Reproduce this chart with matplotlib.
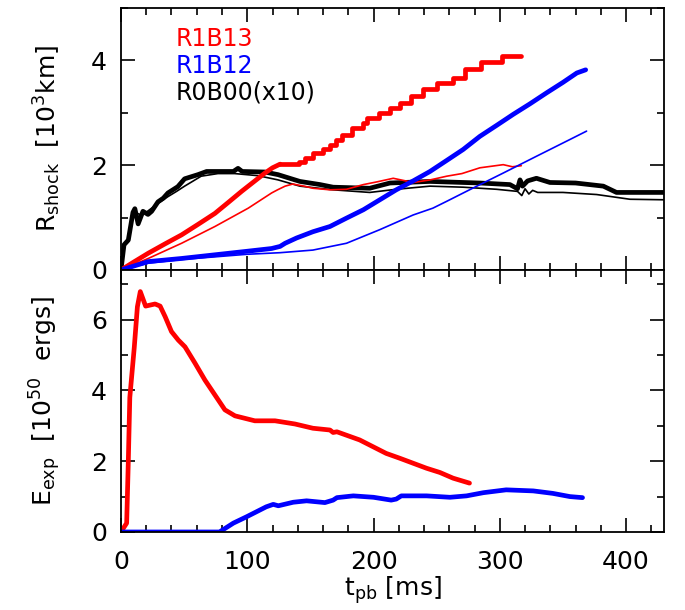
import matplotlib
matplotlib.use('Agg')
import matplotlib.pyplot as plt
from matplotlib.ticker import MultipleLocator

plt.rcParams['font.family'] = ['DejaVu Sans']
plt.rcParams['mathtext.default'] = 'regular'

# 激波半径 (10^3 km)
r13_t = [0, 10, 21.6, 35, 48, 61, 74.4, 85, 95.5, 105, 114, 120, 126]
r13_r = [0, 0.15, 0.32, 0.5, 0.67, 0.87, 1.08, 1.29, 1.5, 1.68, 1.85, 1.95, 2.02]
r13_step_t = [126, 141, 146, 152, 160, 165.5, 170, 175, 183, 192, 195, 204, 213, 221,
              230, 239.5, 250, 263, 272.5, 285.5, 301.5, 317]
r13_step_r = [2.02, 2.07, 2.14, 2.23, 2.30, 2.39, 2.48, 2.58, 2.71, 2.81, 2.90, 3.00,
              3.10, 3.19, 3.32, 3.45, 3.57, 3.67, 3.83, 3.96, 4.08, 4.08]
r13_thin_t = [0, 21.6, 48, 74.4, 100.8, 119.3, 124, 130, 136, 145, 152, 165.5, 178.6,
              192, 202.4, 215.6, 231.4, 245, 258, 270, 284.2, 302.7, 310, 317]
r13_thin_r = [0, 0.22, 0.51, 0.83, 1.18, 1.47, 1.53, 1.60, 1.64, 1.60, 1.56, 1.53, 1.54,
              1.63, 1.68, 1.75, 1.67, 1.72, 1.79, 1.84, 1.95, 2.01, 1.97, 1.99]

r12_t = [0, 21.6, 48, 74.4, 100.8, 119.3, 126, 130, 139, 152, 165.5, 178.6, 192, 205,
         218, 231.4, 244.7, 257.9, 271, 284.2, 297.5, 310.6, 323.8, 337, 350, 361, 368]
r12_r = [0, 0.16, 0.22, 0.29, 0.36, 0.41, 0.45, 0.51, 0.61, 0.73, 0.83, 0.99, 1.15, 1.34,
         1.53, 1.70, 1.88, 2.09, 2.30, 2.55, 2.76, 2.97, 3.17, 3.38, 3.58, 3.76, 3.82]
r12_thin_t = [0, 21.6, 48, 74, 100, 126, 152, 178.6, 205, 231.4, 247, 257.9, 276, 302.7,
              329, 355.5, 368.7]
r12_thin_r = [0, 0.13, 0.2, 0.25, 0.3, 0.33, 0.38, 0.51, 0.77, 1.05, 1.18, 1.31, 1.53,
              1.85, 2.17, 2.49, 2.65]

r00_t = [0, 2.4, 5.8, 9.5, 11, 13.6, 17.4, 21.4, 24.3, 29.3, 33.5, 37.2, 45, 50.4, 61,
         67.8, 89, 92.7, 96, 113.8, 124.3, 141.7, 157.6, 168, 197, 213, 244.7, 284, 308,
         314, 316, 318, 322, 329, 339.7, 360, 382, 392.4, 430]
r00_r = [0, 0.48, 0.57, 1.1, 1.17, 0.88, 1.12, 1.06, 1.12, 1.3, 1.37, 1.47, 1.59, 1.74,
         1.82, 1.88, 1.88, 1.94, 1.88, 1.87, 1.82, 1.69, 1.63, 1.58, 1.56, 1.66, 1.69,
         1.66, 1.63, 1.55, 1.72, 1.60, 1.70, 1.75, 1.67, 1.66, 1.60, 1.48, 1.48]
r00_thin_t = [0, 2.4, 5.8, 9.5, 11, 16, 21, 29.3, 37.2, 44, 50.4, 63.5, 76.8, 90, 108.5,
              124.3, 141.7, 168, 197, 218, 244.7, 271, 297.5, 314, 317.4, 320, 323, 326,
              330, 350, 376.7, 403, 430]
r00_thin_r = [0, 0.45, 0.57, 1.0, 1.1, 1.05, 1.12, 1.27, 1.40, 1.5, 1.6, 1.79, 1.84, 1.84,
              1.80, 1.72, 1.60, 1.53, 1.48, 1.54, 1.60, 1.58, 1.54, 1.50, 1.42, 1.55,
              1.45, 1.52, 1.48, 1.48, 1.44, 1.35, 1.34]

# 爆发能量 (10^50 erg)
e13_t = [0, 1.8, 4.5, 5.8, 7, 10.5, 13, 15.3, 19.5, 27, 31, 35, 40, 45.4, 50.7, 58.6,
         66.5, 74.4, 82.3, 90.3, 106, 122, 137.8, 152, 165.5, 168, 171, 189, 210, 221,
         242, 252.6, 263, 276]
e13_e = [0, 0.1, 0.25, 1.98, 3.8, 5.2, 6.36, 6.79, 6.38, 6.44, 6.38, 6.08, 5.66, 5.42,
         5.23, 4.77, 4.29, 3.87, 3.45, 3.28, 3.14, 3.14, 3.05, 2.93, 2.88, 2.81, 2.83,
         2.6, 2.22, 2.08, 1.8, 1.68, 1.52, 1.38]
e12_t = [0, 78, 89, 99.5, 115, 120.6, 124.6, 136.4, 147, 161.5, 168, 171, 184, 200, 214,
         218, 222, 242, 260.5, 273.7, 287, 305, 326.5, 342, 355.5, 365.5]
e12_e = [0, 0, 0.25, 0.43, 0.71, 0.78, 0.74, 0.84, 0.88, 0.83, 0.9, 0.97, 1.02, 0.98,
         0.90, 0.93, 1.02, 1.02, 0.98, 1.02, 1.11, 1.19, 1.16, 1.09, 1.0, 0.97]

labels = ['R1B13', 'R1B12', 'R0B00(x10)']
colors = ['#ff0000', '#0000ff', 'black']

fig = plt.figure(figsize=(6.85, 6.10), dpi=100)
ax1 = fig.add_axes([0.1766, 0.5574, 0.7927, 0.4295])
ax2 = fig.add_axes([0.1766, 0.1279, 0.7927, 0.4295], sharex=ax1)

thick = 3.4
thin = 1.2
kw = dict(solid_capstyle='round', solid_joinstyle='round')

ax1.plot(r00_thin_t, r00_thin_r, color='black', lw=thin, **kw)
ax1.plot(r00_t, r00_r, color='black', lw=thick, **kw)
ax1.plot(r13_thin_t, r13_thin_r, color=colors[0], lw=thin, **kw)
ax1.plot(r13_t, r13_r, color=colors[0], lw=thick, **kw)
ax1.plot(r13_step_t, r13_step_r, color=colors[0], lw=thick, drawstyle='steps-post', **kw)
ax1.plot(r12_thin_t, r12_thin_r, color=colors[1], lw=thin, **kw)
ax1.plot(r12_t, r12_r, color=colors[1], lw=thick, **kw)

for i, (lab, c) in enumerate(zip(labels, colors)):
    ax1.text(43, 4.4 - 0.51 * i, lab, color=c, fontsize=17, va='center', ha='left')

ax2.plot(e13_t, e13_e, color=colors[0], lw=thick, **kw)
ax2.plot(e12_t, e12_e, color=colors[1], lw=thick, **kw)

ax1.set_xlim(0, 430)
ax1.set_ylim(0, 5)
ax2.set_ylim(0, 7.4)

ax1.yaxis.set_major_locator(MultipleLocator(2))
ax1.yaxis.set_minor_locator(MultipleLocator(1))
ax2.yaxis.set_major_locator(MultipleLocator(2))
ax2.yaxis.set_minor_locator(MultipleLocator(1))
ax2.xaxis.set_major_locator(MultipleLocator(100))
ax2.xaxis.set_minor_locator(MultipleLocator(20))

for ax in (ax1, ax2):
    for s in ax.spines.values():
        s.set_linewidth(1.3)
    ax.tick_params(which='both', direction='in', top=True, right=True, width=1.2,
                   labelsize=18)
    ax.tick_params(which='major', length=10)
    ax.tick_params(which='minor', length=5)
    ax.tick_params(axis='y', which='major', pad=10)
    ax.tick_params(axis='x', which='major', pad=13)
ax1.tick_params(labelbottom=False)

ax1.set_ylabel(r'R$_{shock}$  [10$^3$km]', fontsize=18, labelpad=20)
ax2.set_ylabel(r'E$_{exp}$  [10$^{50}$  ergs]', fontsize=18, labelpad=20)
ax2.set_xlabel(r't$_{pb}$ [ms]', fontsize=18, labelpad=0)

fig.savefig('out.png', dpi=100)
